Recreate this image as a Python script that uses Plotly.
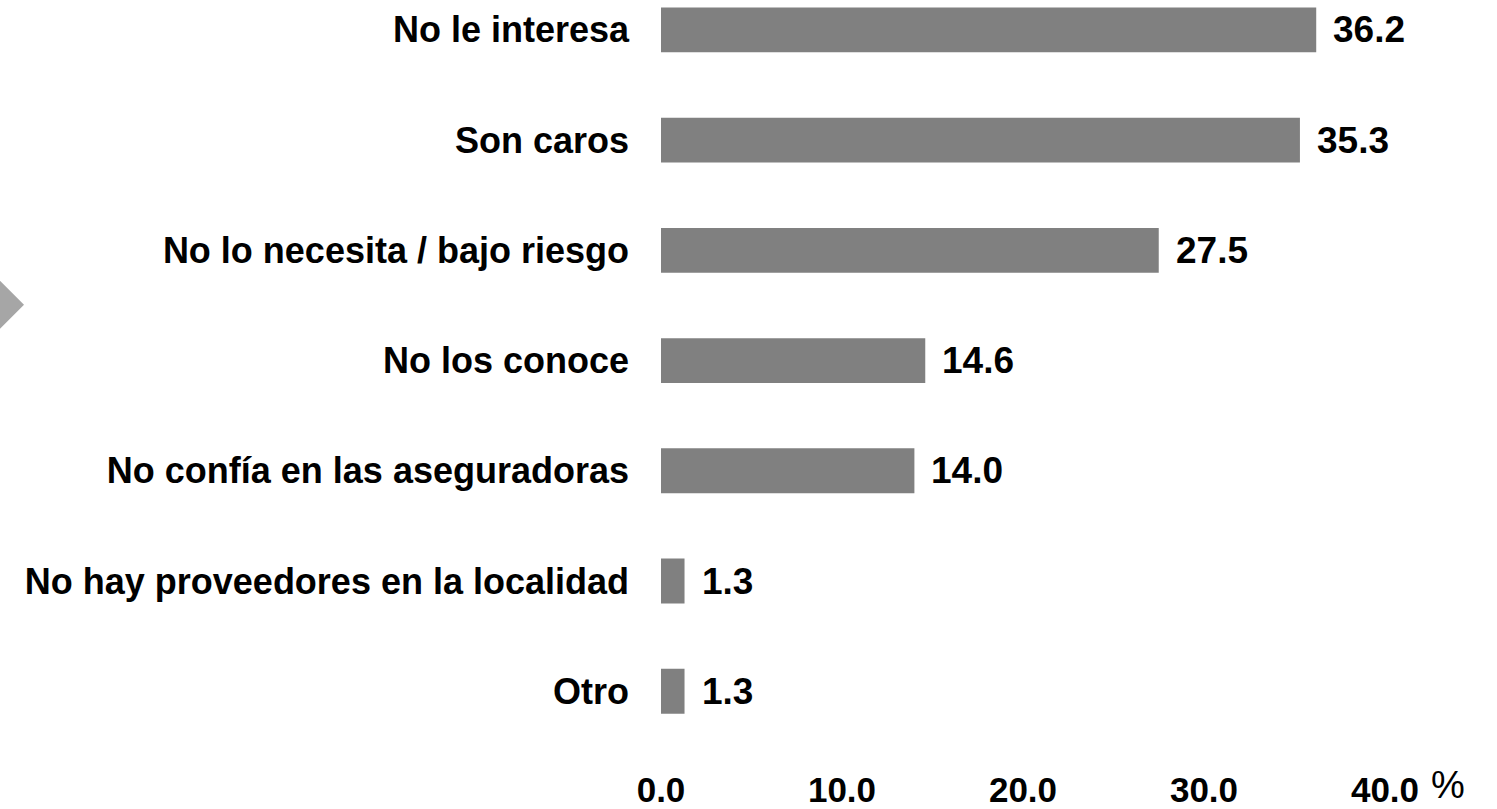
import plotly.graph_objects as go

categories = ["No le interesa", "Son caros", "No lo necesita / bajo riesgo", "No los conoce",
              "No confía en las aseguradoras", "No hay proveedores en la localidad", "Otro"]
values = [36.2, 35.3, 27.5, 14.6, 14.0, 1.3, 1.3]
tick_vals = [0, 10, 20, 30, 40]
tick_text = ["0.0", "10.0", "20.0", "30.0", "40.0"]

W, H = 1497, 809
L, R, T, B = 661, 112, 0, 69
pw, ph = W - L - R, H - T - B
FONT = "Liberation Sans, Arial, sans-serif"

fig = go.Figure(go.Bar(
    x=values, y=categories, orientation="h",
    marker=dict(color="#808080", line=dict(width=0)),
    hoverinfo="skip",
))

for c, v in zip(categories, values):
    fig.add_annotation(x=v, y=c, text=f"<b>{v:.1f}</b>", showarrow=False,
                       xanchor="left", yanchor="middle", xshift=15,
                       font=dict(family=FONT, size=37, color="black"))


def px(xp):
    return (xp - L) / pw


def py(yp):
    return 1 - (yp - T) / ph


fig.add_annotation(xref="paper", yref="paper", x=px(1429), y=py(788),
                   text="%", showarrow=False, xanchor="left", yanchor="middle",
                   font=dict(family=FONT, size=38, color="black"))

# decorative arrow at left
fig.add_shape(type="path", xref="paper", yref="paper",
              path=f"M {px(-30)} {py(252)} L {px(24)} {py(306)} L {px(-30)} {py(360)} Z",
              fillcolor="#a6a6a6", line=dict(width=0), layer="above")

fig.update_layout(
    width=W, height=H,
    margin=dict(l=L, r=R, t=T, b=B),
    plot_bgcolor="white", paper_bgcolor="white",
    bargap=0.593,
    showlegend=False,
    xaxis=dict(range=[0, 40], tickvals=tick_vals, ticktext=[f"<b>{t}</b>" for t in tick_text],
               showgrid=False, zeroline=False, showline=False, ticks="",
               ticklabelstandoff=29,
               tickfont=dict(family=FONT, size=35, color="black")),
    yaxis=dict(categoryorder="array", categoryarray=categories,
               range=[6.415, -0.271], showgrid=False, zeroline=False, showline=False, ticks="",
               ticklabelstandoff=31,
               tickvals=categories, ticktext=[f"<b>{c}</b>" for c in categories],
               tickfont=dict(family=FONT, size=36, color="black")),
)

fig.write_html("out.html", config={"displayModeBar": False},
               post_script="document.body.style.margin='0';")
